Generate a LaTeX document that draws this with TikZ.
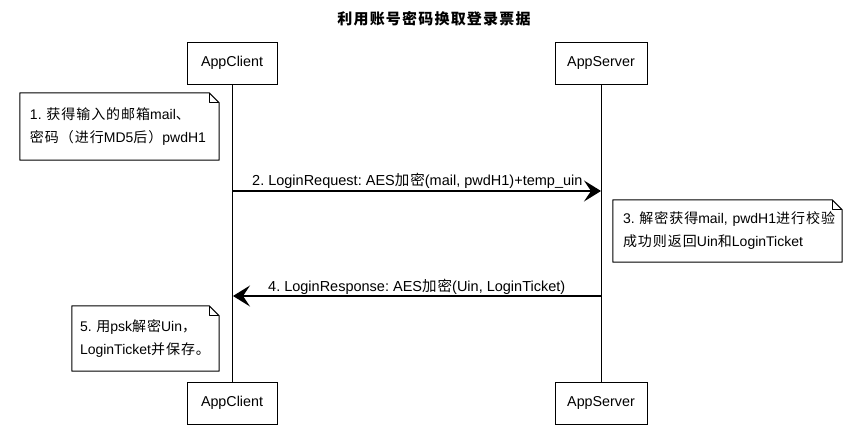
\documentclass[tikz,border=0pt]{standalone}
\usepackage{fontspec}
\setmainfont{Liberation Sans}
\newfontfamily\cjkfam{Noto Sans CJK SC}[LetterSpace=7]
\newfontfamily\cjktitle{Noto Sans CJK SC}[LetterSpace=8]
\newcommand\zh[1]{{\cjkfam #1}}
\usetikzlibrary{arrows.meta,calc}
\begin{document}
\begin{tikzpicture}[x=1pt,y=-1pt,
  lbl/.style={font=\fontsize{14.5}{16}\selectfont, inner sep=0pt, anchor=base west},
  actor/.style={draw, line width=1pt, minimum height=42pt, inner sep=0pt, font=\fontsize{14.3}{16}\selectfont},
  notebody/.style={inner xsep=10pt, inner ysep=0pt, align=left, font=\fontsize{14}{23}\selectfont},
  noteline/.style={line width=1pt, line join=round},
  lifeline/.style={line width=1pt},
  msg/.style={line width=1.1pt, -{Stealth[length=17pt,width=21pt,inset=7pt]}}
]
\path[use as bounding box] (0,0) rectangle (868,447);

\node[font=\fontsize{15}{17}\selectfont\bfseries\cjktitle] (title) at (434,19) {利用账号密码换取登录票据};

\node[actor, minimum width=90pt] (ct) at (232,63) {AppClient};
\node[actor, minimum width=92pt] (st) at (601,63) {AppServer};
\node[actor, minimum width=90pt] (cb) at (232,403) {AppClient};
\node[actor, minimum width=92pt] (sb) at (601,403) {AppServer};

\draw[lifeline] (ct) -- (cb);
\draw[lifeline] (st) -- (sb);

% note 1
\node[notebody, minimum width=199pt, minimum height=67pt, text width=179pt] (n1) at (119.5,126.5)
  {1.~\zh{获得输入的邮箱}mail\zh{、}\\\zh{密码（进行}MD5\zh{后）}pwdH1};
\draw[noteline] (n1.north west) -- ($(n1.north east)+(-10,0)$) -- ($(n1.north east)+(0,10)$) -- (n1.south east) -- (n1.south west) -- cycle;
\draw[noteline] ($(n1.north east)+(-10,0)$) -- ($(n1.north east)+(-10,10)$) -- ($(n1.north east)+(0,10)$);

% message 2
\coordinate (c2) at (233,191);
\coordinate (s2) at (601,191);
\draw[msg] (c2) -- (s2);
\node[lbl] (m2) at (252,185) {2.~LoginRequest:~AES\zh{加密}(mail,~pwdH1)+temp\_uin};

% note 3
\node[notebody, minimum width=229pt, minimum height=62pt, text width=209pt] (n3) at (727.5,231)
  {3.~\zh{解密获得}mail,~pwdH1\zh{进行校验}\\\zh{成功则返回}Uin\zh{和}LoginTicket};
\draw[noteline] (n3.north west) -- ($(n3.north east)+(-10,0)$) -- ($(n3.north east)+(0,10)$) -- (n3.south east) -- (n3.south west) -- cycle;
\draw[noteline] ($(n3.north east)+(-10,0)$) -- ($(n3.north east)+(-10,10)$) -- ($(n3.north east)+(0,10)$);

% message 4
\coordinate (s4) at (601,296);
\coordinate (c4) at (233,296);
\draw[msg] (s4) -- (c4);
\node[lbl] (m4) at (268,291) {4.~LoginResponse:~AES\zh{加密}(Uin,~LoginTicket)};

% note 5
\node[notebody, minimum width=147pt, minimum height=65pt, text width=131pt, inner xsep=8pt] (n5) at (145.5,338.5)
  {5.~\zh{用}psk\zh{解密}Uin\zh{，}\\LoginTicket\zh{并保存。}};
\draw[noteline] (n5.north west) -- ($(n5.north east)+(-10,0)$) -- ($(n5.north east)+(0,10)$) -- (n5.south east) -- (n5.south west) -- cycle;
\draw[noteline] ($(n5.north east)+(-10,0)$) -- ($(n5.north east)+(-10,10)$) -- ($(n5.north east)+(0,10)$);
\end{tikzpicture}
\end{document}
